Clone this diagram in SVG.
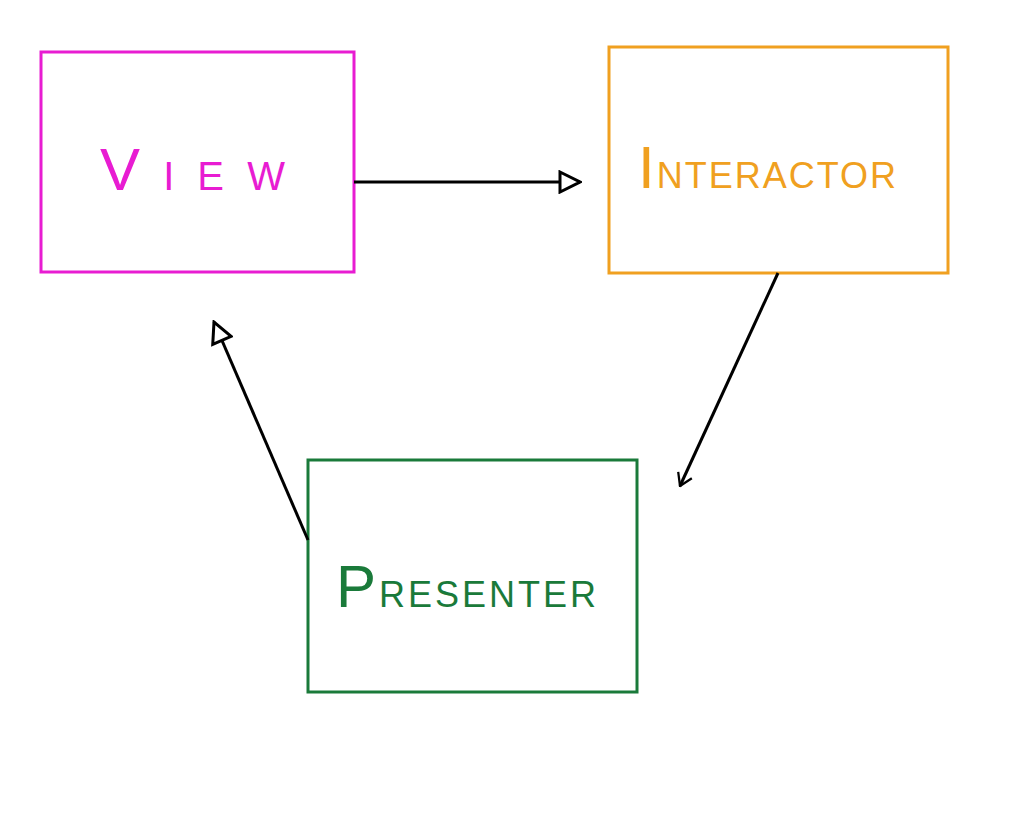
<svg xmlns="http://www.w3.org/2000/svg" width="1017" height="824" viewBox="0 0 1017 824">
<style>
.box{fill:none;stroke-width:3}
.lbl{font-family:"Liberation Sans",sans-serif;font-size:36px}
.big{font-size:60px}
.c{stroke:#000;stroke-width:3;fill:none}
</style>
<defs>
<marker id="tri" viewBox="0 0 12 12" refX="11" refY="6" markerWidth="8" markerHeight="8" orient="auto" markerUnits="strokeWidth">
<path d="M1,1 L11,6 L1,11 Z" fill="#fff" stroke="#000" stroke-width="1.5"/>
</marker>
<marker id="chev" viewBox="0 0 12 12" refX="11" refY="6" markerWidth="6" markerHeight="6" orient="auto" markerUnits="strokeWidth">
<path d="M3,1 L11,6 L3,11" fill="none" stroke="#000" stroke-width="1.5"/>
</marker>
</defs>
<rect width="1017" height="824" fill="#fff"/>
<g id="view"><rect class="box" x="41" y="52" width="313" height="220" stroke="#e81cd2"/>
<text class="lbl" x="100" y="190" fill="#e81cd2" style="font-size:40px;letter-spacing:6px"><tspan class="big">V</tspan> I E W</text></g>
<g id="interactor"><rect class="box" x="609" y="47" width="339" height="226" stroke="#f0a020"/>
<text class="lbl" x="638" y="188" fill="#f0a020" style="letter-spacing:2px"><tspan class="big">I</tspan>NTERACTOR</text></g>
<g id="presenter"><rect class="box" x="308" y="460" width="329" height="232" stroke="#1a7a3a"/>
<text class="lbl" x="336" y="607" fill="#1a7a3a" style="letter-spacing:3px"><tspan class="big">P</tspan>RESENTER</text></g>
<g id="connectors">
<line class="c" x1="354" y1="182" x2="580" y2="182" marker-end="url(#tri)"/>
<line class="c" x1="778" y1="273" x2="680" y2="486" marker-end="url(#chev)"/>
<line class="c" x1="308" y1="540" x2="214" y2="322" marker-end="url(#tri)"/>
</g>
</svg>
